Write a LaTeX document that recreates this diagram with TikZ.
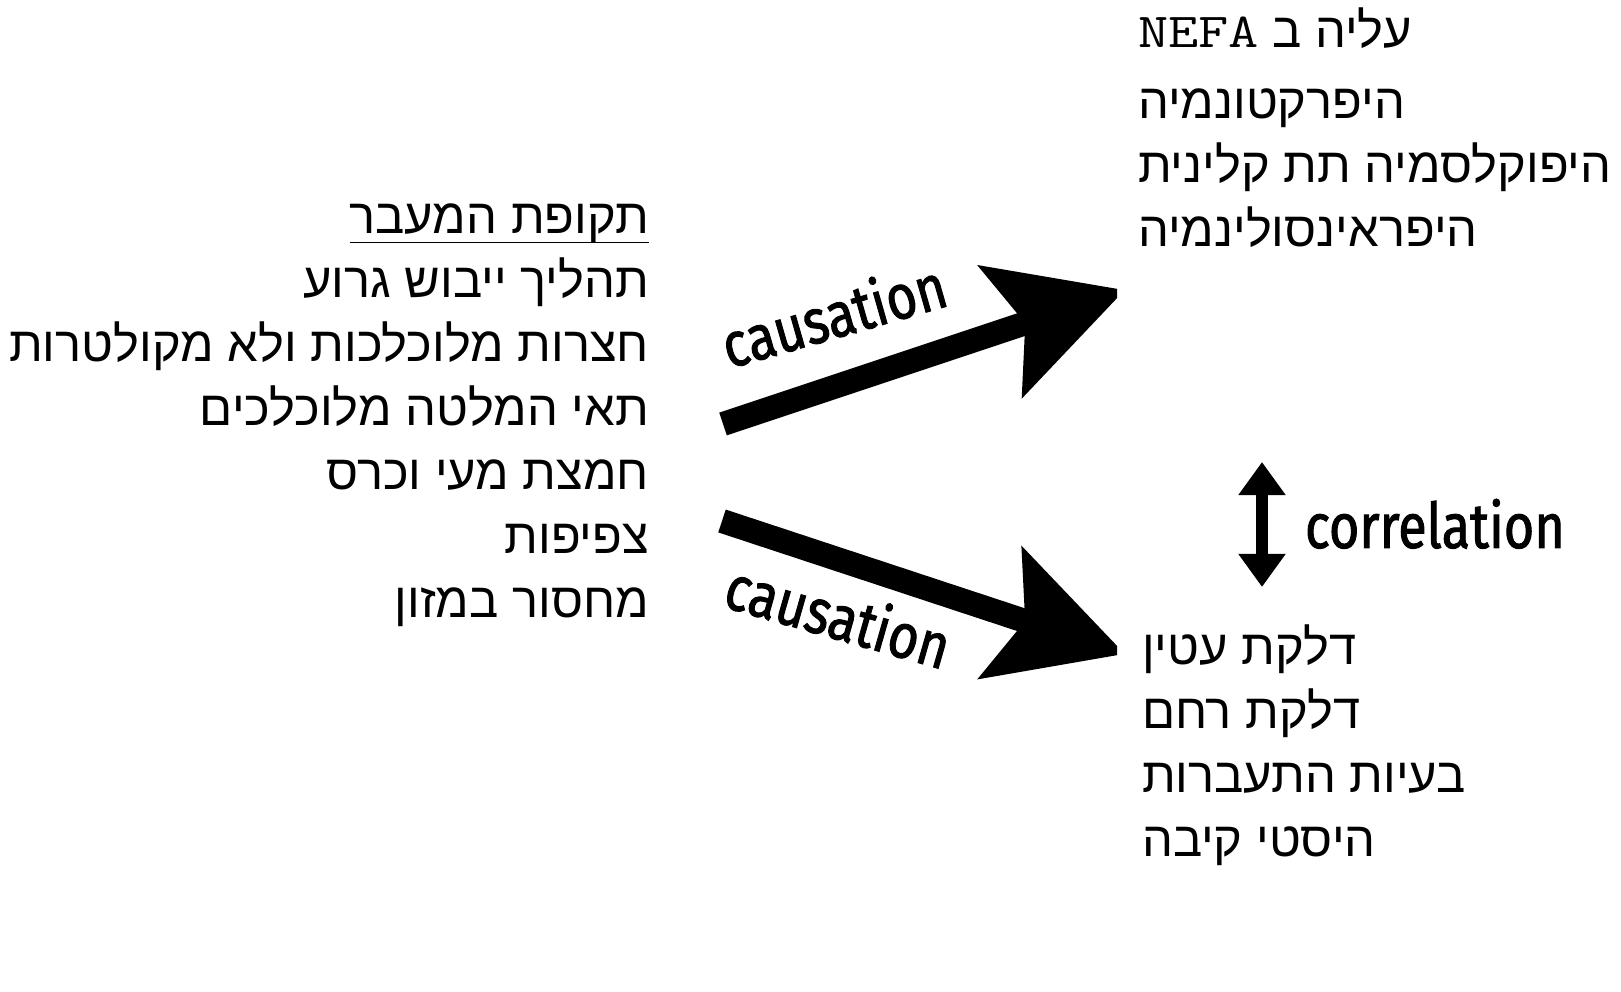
\documentclass[tikz,border=0pt]{standalone}
\usepackage{fontspec}
\usepackage{graphicx}
\usetikzlibrary{arrows.meta,positioning}
\newfontfamily\hebfont[Script=Hebrew]{Liberation Sans}
\newfontfamily\tagfont[FakeStretch=0.83,FakeBold=1.5]{Fira Sans}
\TeXXeTstate=1
\newcommand{\heb}[1]{\beginR #1\endR}
\newcommand{\nefa}{{\ttfamily\fontsize{13.9}{18.2}\selectfont\scalebox{1.2}[1]{NEFA}}}

\begin{document}
\begin{tikzpicture}[
    x=0.01cm, y=-0.01cm,
    every node/.style={inner sep=0pt, outer sep=0pt},
    hebtext/.style={font=\hebfont\fontsize{13.9}{18.2}\selectfont},
    tag/.style={font=\tagfont\fontsize{17.9}{20}\selectfont},
    cause/.style={line width=0.24cm, -{Stealth[length=1.3cm, width=1.36cm, inset=0.25cm]}},
    corr/.style={line width=0.12cm, {Triangle[length=0.33cm, width=0.45cm]}-{Triangle[length=0.33cm, width=0.45cm]}}
]
\useasboundingbox (0,0) rectangle (1621,992);
\node[hebtext, align=right, anchor=base east] (transition) at (649,618) {\underline{\raisebox{0pt}[\height][1.1pt]{\heb{תקופת המעבר}}}\\
    \heb{תהליך ייבוש גרוע}\\
    \heb{חצרות מלוכלכות ולא מקולטרות}\\
    \heb{תאי המלטה מלוכלכים}\\
    \heb{חמצת מעי וכרס}\\
    \heb{צפיפות}\\
    \heb{מחסור במזון}};
\node[hebtext, align=left, anchor=base west] (metabolic) at (1138,247) {\nefa\ \heb{עליה ב}\\[0.07cm]
    \heb{היפרקטונמיה}\\
    \heb{היפוקלסמיה תת קלינית}\\
    \heb{היפראינסולינמיה}};
\node[hebtext, align=left, anchor=base west] (disease) at (1142,857) {\heb{דלקת עטין}\\
    \heb{דלקת רחם}\\
    \heb{בעיות התעברות}\\
    \heb{היסטי קיבה}};
% causal arrows, cut at the right edge
\coordinate (upfrom) at (723,424);
\coordinate (upto) at (1125,290);
\coordinate (downfrom) at (722,521);
\coordinate (downto) at (1125,654);
\begin{scope}
\clip (0,0) rectangle (1117,992);
\draw[cause] (upfrom) -- (upto);
\draw[cause] (downfrom) -- (downto);
\end{scope}
\node[tag, rotate=16, anchor=base] (upcause) at (840,337) {causation};
\node[tag, rotate=-16, anchor=base] (downcause) at (832,638) {causation};
% correlation between the two groups
\coordinate (corrtop) at (1262,462);
\coordinate (corrbot) at (1262,587);
\draw[corr] (corrtop) -- (corrbot);
\node[tag, anchor=base west] (corrtag) at (1305,548) {correlation};
\end{tikzpicture}
\end{document}
